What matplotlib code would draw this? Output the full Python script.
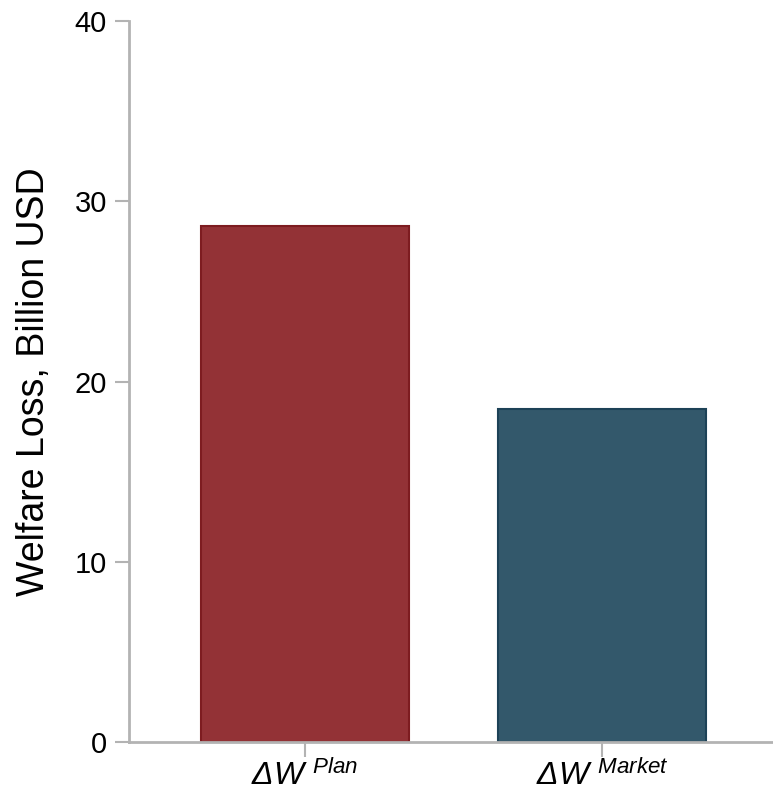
import numpy as np
import matplotlib
matplotlib.use("Agg")
import matplotlib.pyplot as plt

plt.rcParams['font.family'] = ['Liberation Sans', 'DejaVu Sans']
plt.rcParams['mathtext.fontset'] = 'custom'
plt.rcParams['mathtext.rm'] = 'Liberation Sans'
plt.rcParams['mathtext.it'] = 'Liberation Sans:italic'

labels = [r'ΔW $^{\mathit{Plan}}$', r'ΔW $^{\mathit{Market}}$']
values = [28.6, 18.5]
colors = ['#933236', '#33586b']
edges = ['#7d1c20', '#1d4257']
yticks = [0, 10, 20, 30, 40]

fig = plt.figure(figsize=[7.73, 7.92], dpi=100)
ax = fig.add_axes([0.1669, 0.0631, 0.8331, 0.9104])

x = np.arange(len(values))
ax.bar(x, values, width=0.7, color=colors, edgecolor=edges, linewidth=1.5)

ax.set_xlim(-0.593, 1.576)
ax.set_ylim(0, 40)
ax.set_yticks(yticks)
ax.set_xticks(x)
ax.set_xticklabels(labels, fontsize=23, fontstyle='italic')
ax.tick_params(axis='y', labelsize=21, length=10, width=1.5, color='#b3b3b3', pad=6)
ax.tick_params(axis='x', length=11, width=1.5, color='#b3b3b3', pad=2)
ax.set_ylabel('Welfare Loss, Billion USD', fontsize=27, labelpad=16)

for s in ['top', 'right']:
    ax.spines[s].set_visible(False)
for s in ['left', 'bottom']:
    ax.spines[s].set_color('#b3b3b3')
    ax.spines[s].set_linewidth(2)

plt.savefig('out.png', dpi=100)
